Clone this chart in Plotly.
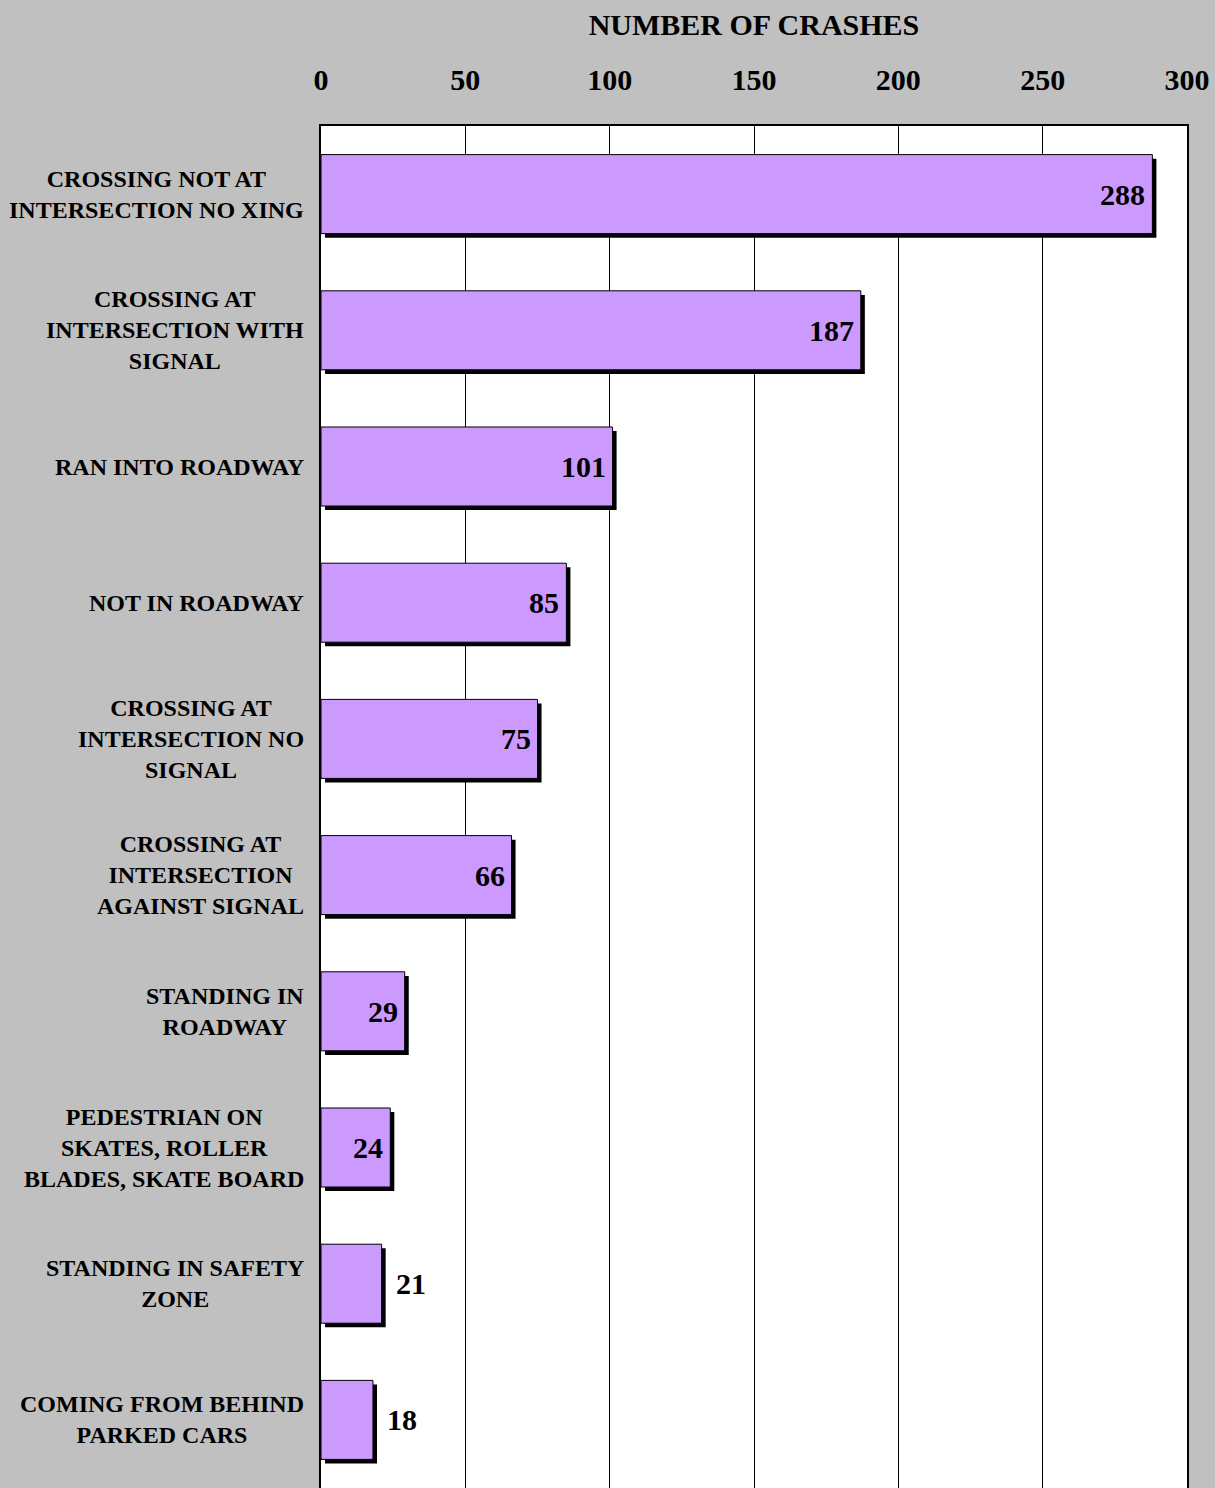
import plotly.graph_objects as go

categories = [
    "CROSSING NOT AT<br>INTERSECTION NO XING",
    "CROSSING AT<br>INTERSECTION WITH<br>SIGNAL",
    "RAN INTO ROADWAY",
    "NOT IN ROADWAY",
    "CROSSING AT<br>INTERSECTION NO<br>SIGNAL",
    "CROSSING AT<br>INTERSECTION<br>AGAINST SIGNAL",
    "STANDING IN<br>ROADWAY",
    "PEDESTRIAN ON<br>SKATES, ROLLER<br>BLADES, SKATE BOARD",
    "STANDING IN SAFETY<br>ZONE",
    "COMING FROM BEHIND<br>PARKED CARS",
]
crashes = [288, 187, 101, 85, 75, 66, 29, 24, 21, 18]
tick_vals = [0, 50, 100, 150, 200, 250, 300]

FONT = "Liberation Serif, Times New Roman, serif"
idx = list(range(len(categories)))
inside = [v >= 24 for v in crashes]

fig = go.Figure()
# shadow
fig.add_trace(go.Bar(
    y=idx, x=crashes, base=1.4, orientation="h",
    width=0.58, offset=-0.26,
    marker=dict(color="black", line=dict(width=0)),
    hoverinfo="skip", showlegend=False,
))
# main bars
fig.add_trace(go.Bar(
    y=idx, x=crashes, orientation="h",
    width=0.58, offset=-0.29,
    marker=dict(color="#CC99FF", line=dict(color="black", width=1)),
    showlegend=False,
))

annotations = []
for i, (c, v, ins) in enumerate(zip(categories, crashes, inside)):
    annotations.append(dict(
        x=0, xref="paper", y=i, yref="y", text=c, showarrow=False,
        xanchor="right", yanchor="middle", align="center", xshift=-15,
        font=dict(family=FONT, size=24, color="black", weight="bold"),
    ))
    annotations.append(dict(
        x=v, xref="x", y=i, yref="y", text=str(v), showarrow=False,
        xanchor="right" if ins else "left", yanchor="middle",
        xshift=-5 if ins else 12,
        font=dict(family=FONT, size=30, color="black", weight="bold"),
    ))

fig.update_layout(
    width=1215, height=1488,
    margin=dict(l=321, r=28, t=126, b=0),
    paper_bgcolor="#C0C0C0", plot_bgcolor="white",
    barmode="overlay",
    title=dict(text="NUMBER OF CRASHES", x=754/1215, xanchor="center",
               y=1 - 24/1488, yanchor="middle", yref="container",
               font=dict(family=FONT, size=30, color="black", weight="bold")),
    xaxis=dict(side="top", range=[0, 300], tickvals=tick_vals,
               showgrid=True, gridcolor="black", gridwidth=1,
               showline=True, linecolor="black", linewidth=2,
               ticks="", ticklabelstandoff=22, zeroline=False,
               tickfont=dict(family=FONT, size=30, color="black", weight="bold")),
    yaxis=dict(range=[9.5, -0.5], showticklabels=False, ticks="",
               showline=True, linecolor="black", linewidth=2, mirror=True,
               showgrid=False, zeroline=False),
    annotations=annotations,
)

fig.write_html("out.html", config={"displayModeBar": False},
               post_script="document.body.style.margin='0';document.body.style.overflow='hidden';")
